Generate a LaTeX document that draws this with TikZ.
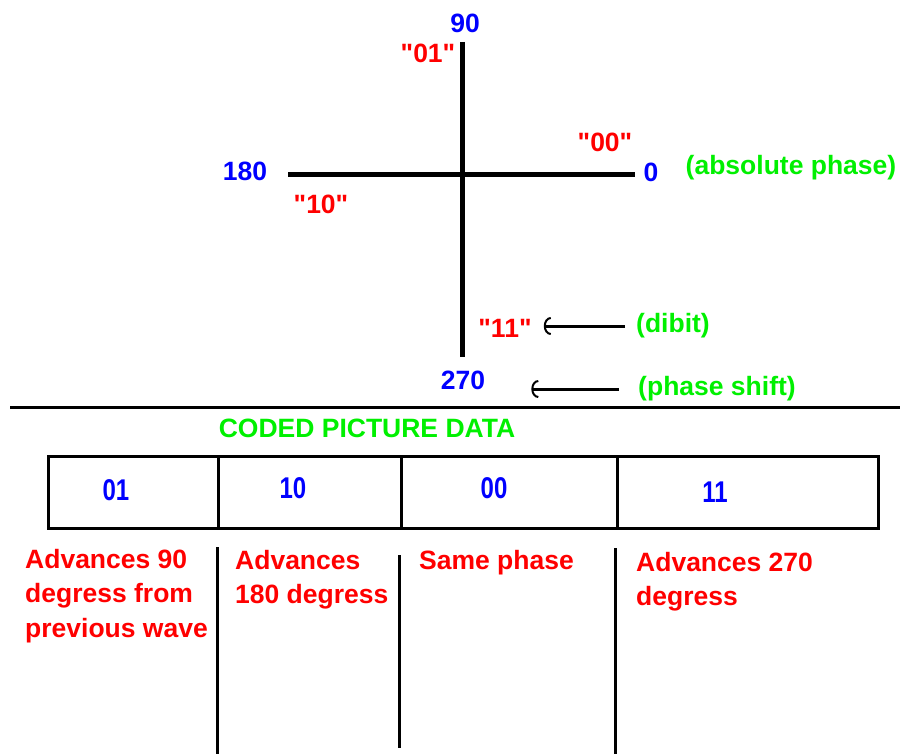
\documentclass[tikz,border=0pt]{standalone}
\usepackage{fontspec}
\usepackage{graphicx}
\setmainfont{Liberation Sans}[Ligatures=TeXOff]
\usetikzlibrary{arrows.meta}
\definecolor{myblue}{RGB}{0,0,255}
\definecolor{myred}{RGB}{255,0,0}
\definecolor{mygreen}{RGB}{0,240,0}
\begin{document}
\begin{tikzpicture}[x=1pt,y=-1pt,
  lbl/.style={inner sep=0pt, font=\bfseries\fontsize{26.5}{34.5}\selectfont},
  blu/.style={lbl,text=myblue},
  rd/.style={lbl,text=myred},
  grn/.style={lbl,text=mygreen},
  rdpara/.style={rd,align=left,anchor=north west},
  cell/.style={draw=black,line width=3pt,inner sep=0pt,outer sep=0pt,anchor=north west,minimum height=72pt},
  digit/.style={inner sep=0pt,text=myblue,font=\bfseries\fontsize{30}{31}\selectfont},
  axis/.style={line width=5pt},
  rule/.style={line width=3pt},
  arr/.style={line width=3pt,-{Arc Barb[length=7pt,width=18pt,line width=2pt]}}
]
\useasboundingbox (0,0) rectangle (900,754);
\fill[white] (0,0) rectangle (900,754);

% axes
\draw[axis] (462,42) -- (462,357);
\draw[axis] (288,175) -- (635,175);

% axis labels
\node[blu] (l90)  at (465,23)  {90};
\node[blu] (l180) at (245,171) {180};
\node[blu] (l0)   at (651,172) {0};
\node[blu] (l270) at (463,380) {270};

\node[rd] (q01) at (428,53)  {"01"};
\node[rd] (q00) at (605,142) {"00"};
\node[rd] (q10) at (321,204) {"10"};
\node[rd] (q11) at (505,328) {"11"};

\node[grn] (abs)   at (791,168) {(absolute phase)};
\node[grn] (dibit) at (673,326) {(dibit)};
\node[grn] (pshift) at (717,389) {(phase shift)};

\draw[arr,shorten <=11pt,shorten >=12pt] (dibit.west) -- (dibit.west -| q11.east);
\draw[arr,shorten <=19pt,shorten >=46pt] (pshift.west) -- (pshift.west -| l270.east);

% separator
\draw[rule] (10,407) -- (900,407);

\node[grn] (title) at (367,428) {CODED PICTURE DATA};

% data cells
\node[cell,minimum width=170pt] (c1) at (48,456) {};
\node[cell,minimum width=183pt] (c2) at (c1.north east) {};
\node[cell,minimum width=216pt] (c3) at (c2.north east) {};
\node[cell,minimum width=261pt] (c4) at (c3.north east) {};

\node[digit] (d1) at (116,490) {\scalebox{0.8}[1]{01}};
\node[digit] (d2) at (293,488) {\scalebox{0.8}[1]{10}};
\node[digit] (d3) at (494,488) {\scalebox{0.8}[1]{00}};
\node[digit] (d4) at (715,492) {\scalebox{0.8}[1]{11}};

% explanation columns
\draw[rule] (217,547) -- (217,754);
\draw[rule] (399,555) -- (399,748);
\draw[rule] (615,548) -- (615,754);

\node[rdpara] (t1) at (25,549)  {Advances 90\\degress from\\previous wave};
\node[rdpara] (t2) at (235,550) {Advances\\180 degress};
\node[rdpara] (t3) at (419,550) {Same phase};
\node[rdpara] (t4) at (636,552) {Advances 270\\degress};
\end{tikzpicture}
\end{document}
